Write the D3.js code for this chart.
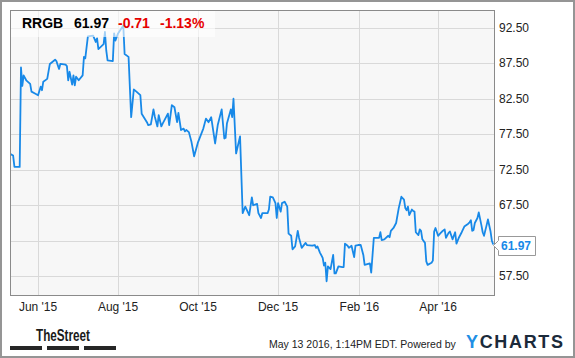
<!DOCTYPE html>
<html>
<head>
<meta charset="utf-8">
<script src="https://cdn.jsdelivr.net/npm/d3@7"></script>
<style>
  html, body { margin: 0; padding: 0; background: #fff; }
  svg { display: block; font-family: "Liberation Sans", Arial, sans-serif; }
</style>
</head>
<body>
<svg id="chart" width="575" height="358"></svg>
<script>
// RRGB closing price
const dates = [
  '2015-05-11','2015-05-13','2015-05-14','2015-05-18','2015-05-19','2015-05-20','2015-05-21','2015-05-23',
  '2015-05-26','2015-05-27','2015-05-30','2015-06-01','2015-06-03','2015-06-04','2015-06-05','2015-06-08',
  '2015-06-10','2015-06-14','2015-06-15','2015-06-17','2015-06-18','2015-06-22','2015-06-23','2015-06-24',
  '2015-06-25','2015-06-27','2015-06-28','2015-06-29','2015-06-30','2015-07-02','2015-07-05','2015-07-06',
  '2015-07-07','2015-07-09','2015-07-13','2015-07-15','2015-07-16','2015-07-17','2015-07-21','2015-07-22',
  '2015-07-23','2015-07-24','2015-07-28','2015-07-29','2015-07-30','2015-08-01','2015-08-05','2015-08-06',
  '2015-08-09','2015-08-11','2015-08-13','2015-08-15','2015-08-18','2015-08-19','2015-08-23','2015-08-24',
  '2015-08-26','2015-08-28','2015-08-29','2015-08-31','2015-09-01','2015-09-03','2015-09-04','2015-09-08',
  '2015-09-09','2015-09-11','2015-09-13','2015-09-15','2015-09-16','2015-09-18','2015-09-20','2015-09-21',
  '2015-09-22','2015-09-24','2015-09-26','2015-09-28','2015-10-01','2015-10-05','2015-10-07','2015-10-09',
  '2015-10-11','2015-10-14','2015-10-16','2015-10-19','2015-10-21','2015-10-22','2015-10-23','2015-10-26',
  '2015-10-27','2015-10-28','2015-10-30','2015-11-02','2015-11-04','2015-11-06','2015-11-09','2015-11-11',
  '2015-11-12','2015-11-15','2015-11-16','2015-11-18','2015-11-19','2015-11-23','2015-11-24','2015-11-25',
  '2015-11-27','2015-11-29','2015-11-30','2015-12-01','2015-12-03','2015-12-04','2015-12-06','2015-12-08',
  '2015-12-09','2015-12-11','2015-12-12','2015-12-14','2015-12-16','2015-12-17','2015-12-19','2015-12-22',
  '2015-12-23','2015-12-27','2015-12-29','2015-12-30','2015-12-31','2016-01-02','2016-01-04','2016-01-05',
  '2016-01-06','2016-01-07','2016-01-08','2016-01-10','2016-01-12','2016-01-13','2016-01-14','2016-01-16',
  '2016-01-19','2016-01-20','2016-01-21','2016-01-23','2016-01-24','2016-01-26','2016-01-28','2016-01-29',
  '2016-01-31','2016-02-02','2016-02-04','2016-02-05','2016-02-09','2016-02-10','2016-02-12','2016-02-16',
  '2016-02-17','2016-02-18','2016-02-20','2016-02-23','2016-02-24','2016-02-25','2016-02-27','2016-02-29',
  '2016-03-02','2016-03-04','2016-03-06','2016-03-07','2016-03-08','2016-03-09','2016-03-10','2016-03-12',
  '2016-03-13','2016-03-14','2016-03-15','2016-03-17','2016-03-18','2016-03-19','2016-03-20','2016-03-22',
  '2016-03-23','2016-03-24','2016-03-27','2016-03-28','2016-03-29','2016-03-30','2016-04-01','2016-04-03',
  '2016-04-04','2016-04-06','2016-04-07','2016-04-09','2016-04-10','2016-04-12','2016-04-14','2016-04-15',
  '2016-04-17','2016-04-19','2016-04-21','2016-04-24','2016-04-25','2016-04-26','2016-04-27','2016-04-28',
  '2016-04-29','2016-05-01','2016-05-02','2016-05-04','2016-05-05','2016-05-06','2016-05-08','2016-05-09',
  '2016-05-11','2016-05-12','2016-05-13'
];
const prices = [
  74.7, 74.5, 72.9, 72.9, 86.9, 84.3, 85.8, 85.1,
  84.6, 83.5, 83.2, 83.0, 84.2, 83.7, 84.9, 85.3,
  87.4, 88.0, 87.8, 86.7, 87.4, 87.3, 87.1, 85.1,
  86.3, 84.5, 85.8, 84.4, 85.6, 85.1, 85.8, 88.4,
  88.2, 91.3, 91.4, 90.5, 91.0, 89.5, 90.2, 91.9,
  89.3, 87.9, 87.8, 91.7, 90.7, 91.7, 92.8, 88.8,
  88.4, 79.9, 83.8, 83.5, 83.0, 80.4, 79.2, 78.8,
  78.9, 81.0, 80.0, 78.6, 80.2, 78.6, 79.0, 80.4,
  78.8, 81.6, 81.3, 79.2, 80.5, 78.1, 78.3, 77.9,
  78.1, 77.8, 76.4, 74.4, 76.4, 78.3, 79.7, 79.2,
  79.9, 76.2, 78.8, 81.0, 76.9, 77.0, 79.0, 81.0,
  79.9, 82.5, 74.8, 77.2, 66.4, 67.3, 66.1, 68.6,
  67.5, 67.7, 66.4, 65.7, 66.4, 66.4, 66.9, 68.7,
  68.6, 67.8, 65.7, 67.8, 66.6, 67.8, 68.0, 67.3,
  63.5, 63.2, 61.3, 61.7, 63.9, 62.9, 61.5, 62.2,
  61.9, 61.8, 61.9, 61.5, 61.7, 60.8, 60.1, 59.0,
  59.4, 56.8, 58.9, 58.5, 60.5, 57.9, 57.9, 58.9,
  58.8, 58.8, 62.1, 61.8, 61.5, 61.8, 60.2, 61.8,
  61.9, 61.9, 60.5, 59.1, 59.3, 58.0, 62.9, 62.9,
  63.7, 62.6, 62.7, 63.2, 63.0, 63.9, 64.3, 65.0,
  67.1, 68.7, 68.3, 67.1, 66.8, 67.3, 66.1, 66.9,
  66.7, 66.6, 63.7, 63.3, 64.1, 63.9, 62.7, 62.2,
  59.6, 59.1, 59.4, 59.7, 63.8, 64.3, 63.2, 63.6,
  63.8, 64.1, 62.9, 63.6, 63.8, 62.7, 63.7, 62.1,
  63.0, 63.7, 64.5, 64.9, 65.1, 65.4, 63.9, 64.0,
  65.0, 65.7, 66.5, 64.7, 63.7, 63.2, 64.7, 65.5,
  63.8, 62.5, 61.97
];
const yTicks = [57.5, 62.5, 67.5, 72.5, 77.5, 82.5, 87.5, 92.5];
const xTicks = ['2015-06-01', '2015-08-01', '2015-10-01', '2015-12-01', '2016-02-01', '2016-04-01'];
const xDomain = ['2015-05-11', '2016-05-14'];
const yDomain = [54.79, 94.93];

const ticker = 'RRGB';
const change = '-0.71';
const changePct = '-1.13%';
const stamp = 'May 13 2016, 1:14PM EDT. Powered by';

const parse = d3.timeParse('%Y-%m-%d');
const data = dates.map((d, i) => ({ date: parse(d), value: prices[i] }));
const last = data[data.length - 1];

const width = 575;
const height = 358;
const plot = { left: 10.5, right: 494.5, top: 10.5, bottom: 295.5 };
const blue = '#1889e8';

const svg = d3.select('#chart');

// outer frame
svg.append('rect')
  .attr('x', 1).attr('y', 1)
  .attr('width', width - 2).attr('height', height - 2)
  .attr('fill', '#fff')
  .attr('stroke', '#959595')
  .attr('stroke-width', 2);

const x = d3.scaleTime()
  .domain(xDomain.map(parse))
  .range([plot.left, plot.right]);

const y = d3.scaleLinear()
  .domain(yDomain)
  .range([plot.bottom, plot.top]);

svg.append('rect')
  .attr('x', plot.left).attr('y', plot.top)
  .attr('width', plot.right - plot.left).attr('height', plot.bottom - plot.top)
  .attr('fill', '#f7f7f7');

// grid
svg.append('g')
  .selectAll('line')
  .data(yTicks)
  .enter()
  .append('line')
  .attr('x1', plot.left).attr('x2', plot.right)
  .attr('y1', d => Math.round(y(d)) + 0.5).attr('y2', d => Math.round(y(d)) + 0.5)
  .attr('stroke', '#d9d9d9');

svg.append('g')
  .selectAll('line')
  .data(xTicks.map(parse))
  .enter()
  .append('line')
  .attr('x1', d => Math.round(x(d)) + 0.5).attr('x2', d => Math.round(x(d)) + 0.5)
  .attr('y1', plot.top).attr('y2', plot.bottom)
  .attr('stroke', '#d9d9d9');

// y labels on the right (the one under the last-value flag is hidden)
svg.append('g')
  .selectAll('text')
  .data(yTicks.filter(d => Math.abs(y(d) - y(last.value)) > 12))
  .enter()
  .append('text')
  .attr('x', 499)
  .attr('y', d => y(d))
  .attr('dy', '0.35em')
  .style('font-size', '12px')
  .style('fill', '#222')
  .text(d => d3.format('.2f')(d));

// x labels
const fmt = d3.timeFormat("%b '%y");
svg.append('g')
  .selectAll('text')
  .data(xTicks.map(parse))
  .enter()
  .append('text')
  .attr('x', d => x(d))
  .attr('y', 311)
  .attr('text-anchor', 'middle')
  .style('font-size', '12px')
  .style('fill', '#222')
  .text(d => fmt(d));

// price line
const line = d3.line()
  .x(d => x(d.date))
  .y(d => y(d.value));

svg.append('path')
  .datum(data)
  .attr('d', line)
  .attr('fill', 'none')
  .attr('stroke', blue)
  .attr('stroke-width', 1.8)
  .attr('stroke-linejoin', 'round');

// plot frame
svg.append('rect')
  .attr('x', plot.left).attr('y', plot.top)
  .attr('width', plot.right - plot.left).attr('height', plot.bottom - plot.top)
  .attr('fill', 'none')
  .attr('stroke', '#8a8a8a');

// header box over the plot
svg.append('rect')
  .attr('x', plot.left + 0.5).attr('y', plot.top + 0.5)
  .attr('width', 204).attr('height', 26)
  .attr('fill', '#fff')
  .attr('fill-opacity', 0.6);

const head = svg.append('text')
  .attr('y', 28)
  .style('font-size', '14px')
  .style('font-weight', 'bold');
head.append('tspan').attr('x', 22).style('fill', '#000').text(ticker);
head.append('tspan').attr('x', 74).style('fill', '#000').text(d3.format('.2f')(last.value));
head.append('tspan').attr('x', 118).style('fill', '#e60000').text(change);
head.append('tspan').attr('x', 160).style('fill', '#e60000').text(changePct);

// last value flag
const ly = Math.round(y(last.value)) + 0.5;
const lx = Math.round(x(last.date));
svg.append('path')
  .attr('d', `M${lx + 0.5},${ly} L${lx + 5.5},${ly - 5} L${lx + 5.5},${ly - 9} L${lx + 42.5},${ly - 9} L${lx + 42.5},${ly + 10} L${lx + 5.5},${ly + 10} L${lx + 5.5},${ly + 5} Z`)
  .attr('fill', '#fff')
  .attr('stroke', '#999');
svg.append('text')
  .attr('x', lx + 8)
  .attr('y', ly)
  .attr('dy', '0.38em')
  .style('font-size', '12px')
  .style('font-weight', 'bold')
  .style('fill', blue)
  .text(d3.format('.2f')(last.value));

// footer
svg.append('text')
  .attr('x', 36)
  .attr('y', 341)
  .attr('textLength', 54)
  .attr('lengthAdjust', 'spacingAndGlyphs')
  .style('font-family', '"Liberation Sans Narrow", "Liberation Sans", Arial, sans-serif')
  .style('font-size', '16px')
  .style('font-weight', 'bold')
  .style('fill', '#1a1a1a')
  .text('TheStreet');

svg.append('g')
  .selectAll('rect')
  .data([10, 47, 84])
  .enter()
  .append('rect')
  .attr('x', d => d)
  .attr('y', 346)
  .attr('width', 32)
  .attr('height', 4)
  .attr('fill', '#262626');

svg.append('text')
  .attr('x', 269)
  .attr('y', 348)
  .style('font-size', '10.5px')
  .style('fill', '#222')
  .text(stamp);

const yc = svg.append('text')
  .attr('x', 466)
  .attr('y', 348)
  .attr('textLength', 97)
  .attr('lengthAdjust', 'spacing')
  .style('font-size', '18px')
  .style('font-weight', 'bold');
yc.append('tspan').style('fill', '#1f8fe5').text('Y');
yc.append('tspan').style('fill', '#1b2a3a').text('CHARTS');
</script>
</body>
</html>
